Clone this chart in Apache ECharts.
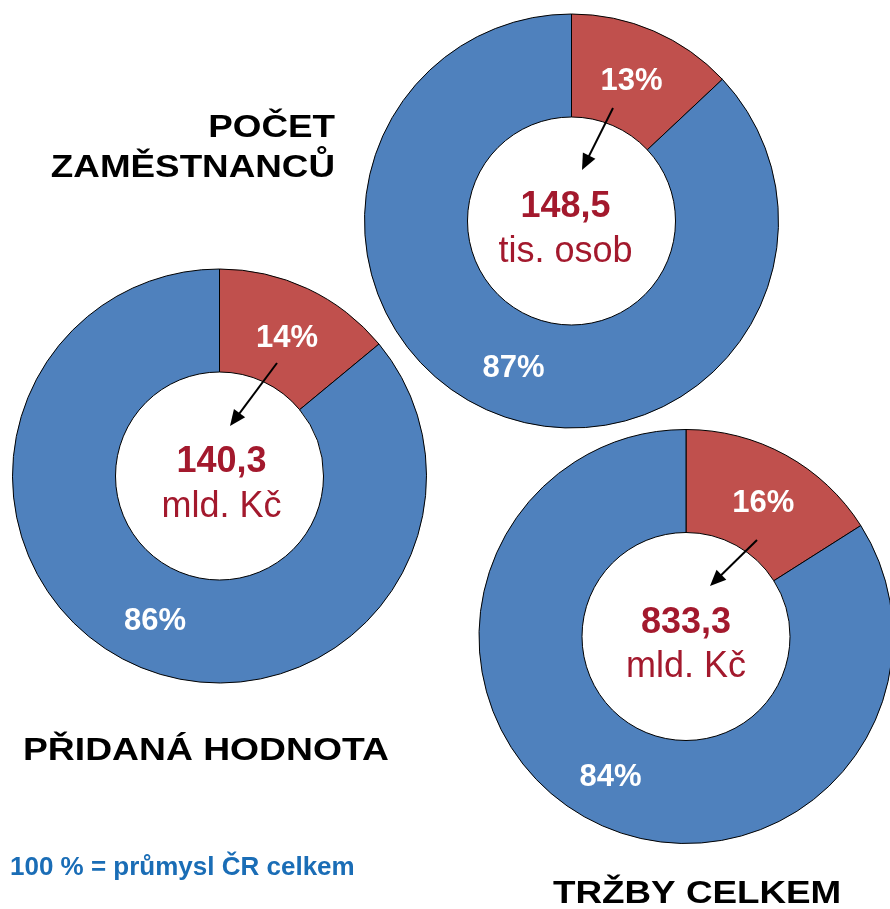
<!DOCTYPE html>
<html>
<head>
<meta charset="utf-8">
<script src="https://cdn.jsdelivr.net/npm/echarts@6/dist/echarts.min.js"></script>
<style>
html,body{margin:0;padding:0;background:#fff;}
#chart{width:890px;height:909px;}
</style>
</head>
<body>
<div id="chart"></div>
<script>
// ---- data ----
const categories = ['POČET ZAMĚSTNANCŮ', 'PŘIDANÁ HODNOTA', 'TRŽBY CELKEM'];
const sharePercent = [13, 14, 16];
const restPercent = [87, 86, 84];
const centerValues = ['148,5', '140,3', '833,3'];
const centerUnits = ['tis. osob', 'mld. Kč', 'mld. Kč'];
const footnote = '100 % = průmysl ČR celkem';

// ---- layout ----
const FONT = '"Liberation Sans", Arial, Helvetica, sans-serif';
const centers = [[571.5, 221], [219.5, 476], [686, 636.5]];
const radius = [104, 207];
const centerTextDx = [-6, 2, 0];
const shareLabelOffset = [[-3, 6], [0, 6], [1, 6]];
const restLabelOffset = [[5, 2], [3, 2], [1, 2]];
const arrowStart = [[41.5, -113], [57.5, -113], [71, -96.5]];
const arrowTip = [[10.5, -51], [10.5, -50], [24, -50.5]];
const RED = '#C0504D', BLUE = '#4F81BD', DARKRED = '#A3192D', NOTE = '#1A6DB6';

const labelBase = { show: true, position: 'inside', formatter: '{c}%',
  color: '#fff', fontFamily: FONT, fontWeight: 'bold', fontSize: 31 };

const series = categories.map((name, i) => ({
  type: 'pie',
  name: name,
  center: centers[i],
  radius: radius,
  startAngle: 90,
  clockwise: true,
  silent: true,
  animation: false,
  itemStyle: { borderColor: '#000', borderWidth: 1 },
  label: labelBase,
  labelLine: { show: false },
  data: [
    { name: 'share', value: sharePercent[i], itemStyle: { color: RED },
      label: Object.assign({}, labelBase, { offset: shareLabelOffset[i] }) },
    { name: 'rest', value: restPercent[i], itemStyle: { color: BLUE },
      label: Object.assign({}, labelBase, { offset: restLabelOffset[i] }) }
  ]
}));

const graphics = [];
categories.forEach((name, i) => {
  const [cx, cy] = centers[i];
  graphics.push({
    type: 'text', x: cx + centerTextDx[i], y: cy - 13.5, z: 10,
    style: { text: centerValues[i], fill: DARKRED, font: 'bold 36px ' + FONT, textAlign: 'center', textVerticalAlign: 'middle' }
  });
  graphics.push({
    type: 'text', x: cx + centerTextDx[i], y: cy + 31, z: 10,
    style: { text: centerUnits[i], fill: DARKRED, font: '36px ' + FONT, textAlign: 'center', textVerticalAlign: 'middle' }
  });
  // arrow
  const sx = cx + arrowStart[i][0], sy = cy + arrowStart[i][1];
  const tx = cx + arrowTip[i][0], ty = cy + arrowTip[i][1];
  const dx = tx - sx, dy = ty - sy, len = Math.hypot(dx, dy);
  const ux = dx / len, uy = dy / len, px = -uy, py = ux;
  const hl = 16, hw = 7;
  const bx = tx - ux * hl, by = ty - uy * hl;
  graphics.push({
    type: 'line', z: 10,
    shape: { x1: sx, y1: sy, x2: bx + ux * 2, y2: by + uy * 2 },
    style: { stroke: '#000', lineWidth: 2 }
  });
  graphics.push({
    type: 'polygon', z: 10,
    shape: { points: [[tx, ty], [bx + px * hw, by + py * hw], [bx - px * hw, by - py * hw]] },
    style: { fill: '#000' }
  });
});

// titles (original text is horizontally stretched)
const titleStyle = { fill: '#000', font: 'bold 32px ' + FONT, textVerticalAlign: 'middle' };
const t0 = categories[0].split(' ');
graphics.push({ type: 'text', x: 335, y: 128, scaleX: 1.15,
  style: Object.assign({}, titleStyle, { text: t0[0], textAlign: 'right' }) });
graphics.push({ type: 'text', x: 335, y: 168, scaleX: 1.15,
  style: Object.assign({}, titleStyle, { text: t0[1], textAlign: 'right' }) });
graphics.push({ type: 'text', x: 23, y: 751, scaleX: 1.165,
  style: Object.assign({}, titleStyle, { text: categories[1], textAlign: 'left' }) });
graphics.push({ type: 'text', x: 553, y: 894.5, scaleX: 1.15,
  style: Object.assign({}, titleStyle, { text: categories[2], textAlign: 'left' }) });
graphics.push({ type: 'text', x: 10, y: 868,
  style: { text: footnote, fill: NOTE, font: 'bold 26px ' + FONT, textAlign: 'left', textVerticalAlign: 'middle' } });

const chart = echarts.init(document.getElementById('chart'), null, { renderer: 'canvas' });
chart.setOption({
  backgroundColor: '#fff',
  animation: false,
  series: series,
  graphic: { elements: graphics }
});
</script>
</body>
</html>
